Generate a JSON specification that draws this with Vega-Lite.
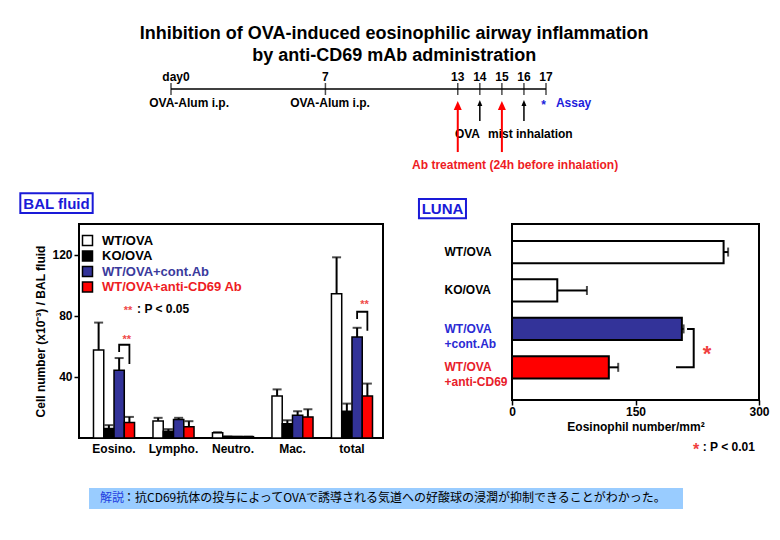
{
  "$schema": "https://vega.github.io/schema/vega-lite/v6.json",
  "background": "white",
  "padding": {"left": 18, "top": 24, "right": 10, "bottom": 10},
  "config": {
    "font": "Liberation Sans",
    "view": {"stroke": "black", "strokeWidth": 2},
    "axis": {"labelFont": "Liberation Sans", "labelFontSize": 12, "labelFontWeight": "bold", "labelColor": "black", "titleFont": "Liberation Sans", "titleFontWeight": "bold", "titleColor": "black", "tickColor": "black", "domainColor": "black", "grid": false}
  },
  "title": {"text": ["Inhibition of OVA-induced eosinophilic airway inflammation", "by anti-CD69 mAb administration"], "font": "Liberation Sans", "fontSize": 18, "fontWeight": "bold", "lineHeight": 22, "anchor": "middle", "offset": 6, "color": "black", "dx": 0},
  "spacing": 16,
  "vconcat": [
    {
      "width": 560, "height": 86, "view": {"stroke": null},
      "layer": [
        {"data": {"values": [{"start": 0, "end": 17}]},
         "mark": {"type": "rule", "strokeWidth": 1.5, "color": "black"},
         "encoding": {"x": {"field": "start", "type": "quantitative", "scale": {"domain": [-4.171, 21.216], "nice": false, "zero": false}, "axis": null}, "x2": {"field": "end"}, "y": {"datum": 0, "type": "quantitative", "scale": {"domain": [0, 1], "reverse": true, "nice": false}, "axis": null}}},
        {"data": {"values": [{"day": 0}, {"day": 7}, {"day": 13}, {"day": 14}, {"day": 15}, {"day": 16}, {"day": 17}]},
         "mark": {"type": "tick", "orient": "vertical", "size": 12, "thickness": 1.5, "color": "black"},
         "encoding": {"x": {"field": "day", "type": "quantitative", "scale": {"domain": [-4.171, 21.216], "nice": false, "zero": false}, "axis": null}, "y": {"datum": 0, "type": "quantitative", "scale": {"domain": [0, 1], "reverse": true, "nice": false}, "axis": null}}},
        {"data": {"values": [{"day": 0, "lvl": -0.14, "txt": "day0"}]},
         "mark": {"type": "text", "font": "Liberation Sans", "fontSize": 12, "fontWeight": "bold", "color": "black", "align": "center", "baseline": "middle", "dx": 5},
         "encoding": {"x": {"field": "day", "type": "quantitative", "scale": {"domain": [-4.171, 21.216], "nice": false, "zero": false}, "axis": null}, "y": {"field": "lvl", "type": "quantitative", "scale": {"domain": [0, 1], "reverse": true, "nice": false}, "axis": null}, "text": {"field": "txt"}}},
        {"data": {"values": [{"day": 7, "lvl": -0.14, "txt": "7"}, {"day": 13, "lvl": -0.14, "txt": "13"}, {"day": 14, "lvl": -0.14, "txt": "14"}, {"day": 15, "lvl": -0.14, "txt": "15"}, {"day": 16, "lvl": -0.14, "txt": "16"}, {"day": 17, "lvl": -0.14, "txt": "17"}]},
         "mark": {"type": "text", "font": "Liberation Sans", "fontSize": 12, "fontWeight": "bold", "color": "black", "align": "center", "baseline": "middle"},
         "encoding": {"x": {"field": "day", "type": "quantitative", "scale": {"domain": [-4.171, 21.216], "nice": false, "zero": false}, "axis": null}, "y": {"field": "lvl", "type": "quantitative", "scale": {"domain": [0, 1], "reverse": true, "nice": false}, "axis": null}, "text": {"field": "txt"}}},
        {"data": {"values": [{"day": 0.82, "lvl": 0.163, "txt": "OVA-Alum i.p."}, {"day": 7.21, "lvl": 0.163, "txt": "OVA-Alum i.p."}]},
         "mark": {"type": "text", "font": "Liberation Sans", "fontSize": 12, "fontWeight": "bold", "color": "black", "align": "center", "baseline": "middle"},
         "encoding": {"x": {"field": "day", "type": "quantitative", "scale": {"domain": [-4.171, 21.216], "nice": false, "zero": false}, "axis": null}, "y": {"field": "lvl", "type": "quantitative", "scale": {"domain": [0, 1], "reverse": true, "nice": false}, "axis": null}, "text": {"field": "txt"}}},
        {"data": {"values": [{"day": 12.87, "lvl": 0.527, "txt": "OVA"}, {"day": 14.37, "lvl": 0.527, "txt": "mist inhalation"}]},
         "mark": {"type": "text", "font": "Liberation Sans", "fontSize": 12, "fontWeight": "bold", "color": "black", "align": "left", "baseline": "middle"},
         "encoding": {"x": {"field": "day", "type": "quantitative", "scale": {"domain": [-4.171, 21.216], "nice": false, "zero": false}, "axis": null}, "y": {"field": "lvl", "type": "quantitative", "scale": {"domain": [0, 1], "reverse": true, "nice": false}, "axis": null}, "text": {"field": "txt"}}},
        {"data": {"values": [{"day": 15.6, "lvl": 0.884, "txt": "Ab treatment (24h before inhalation)"}]},
         "mark": {"type": "text", "font": "Liberation Sans", "fontSize": 12, "fontWeight": "bold", "color": "#ee1c24", "align": "center", "baseline": "middle"},
         "encoding": {"x": {"field": "day", "type": "quantitative", "scale": {"domain": [-4.171, 21.216], "nice": false, "zero": false}, "axis": null}, "y": {"field": "lvl", "type": "quantitative", "scale": {"domain": [0, 1], "reverse": true, "nice": false}, "axis": null}, "text": {"field": "txt"}}},
        {"data": {"values": [{"day": 16.89, "lvl": 0.186, "txt": "*"}]},
         "mark": {"type": "text", "font": "Liberation Sans", "fontSize": 12, "fontWeight": "bold", "color": "#1c1cdc", "align": "center", "baseline": "middle"},
         "encoding": {"x": {"field": "day", "type": "quantitative", "scale": {"domain": [-4.171, 21.216], "nice": false, "zero": false}, "axis": null}, "y": {"field": "lvl", "type": "quantitative", "scale": {"domain": [0, 1], "reverse": true, "nice": false}, "axis": null}, "text": {"field": "txt"}}},
        {"data": {"values": [{"day": 17.45, "lvl": 0.163, "txt": "Assay"}]},
         "mark": {"type": "text", "font": "Liberation Sans", "fontSize": 12, "fontWeight": "bold", "color": "#1c1cdc", "align": "left", "baseline": "middle"},
         "encoding": {"x": {"field": "day", "type": "quantitative", "scale": {"domain": [-4.171, 21.216], "nice": false, "zero": false}, "axis": null}, "y": {"field": "lvl", "type": "quantitative", "scale": {"domain": [0, 1], "reverse": true, "nice": false}, "axis": null}, "text": {"field": "txt"}}},
        {"data": {"values": [{"day": 13, "head": 0.192, "tail": 0.733}, {"day": 15, "head": 0.192, "tail": 0.733}]},
         "layer": [
           {"mark": {"type": "rule", "strokeWidth": 2, "color": "red"},
            "encoding": {"x": {"field": "day", "type": "quantitative", "scale": {"domain": [-4.171, 21.216], "nice": false, "zero": false}, "axis": null}, "y": {"field": "head", "type": "quantitative", "scale": {"domain": [0, 1], "reverse": true, "nice": false}, "axis": null}, "y2": {"field": "tail"}}},
           {"mark": {"type": "point", "shape": "M0,-1L0.89,1L-0.89,1Z", "filled": true, "size": 81, "color": "red", "opacity": 1, "strokeWidth": 0},
            "encoding": {"x": {"field": "day", "type": "quantitative", "scale": {"domain": [-4.171, 21.216], "nice": false, "zero": false}, "axis": null}, "y": {"field": "head", "type": "quantitative", "scale": {"domain": [0, 1], "reverse": true, "nice": false}, "axis": null}}}
         ]},
        {"data": {"values": [{"day": 14, "head": 0.162, "tail": 0.372}, {"day": 16, "head": 0.162, "tail": 0.372}]},
         "layer": [
           {"mark": {"type": "rule", "strokeWidth": 1.5, "color": "black"},
            "encoding": {"x": {"field": "day", "type": "quantitative", "scale": {"domain": [-4.171, 21.216], "nice": false, "zero": false}, "axis": null}, "y": {"field": "head", "type": "quantitative", "scale": {"domain": [0, 1], "reverse": true, "nice": false}, "axis": null}, "y2": {"field": "tail"}}},
           {"mark": {"type": "point", "shape": "M0,-1L0.83,1L-0.83,1Z", "filled": true, "size": 36, "color": "black", "opacity": 1, "strokeWidth": 0},
            "encoding": {"x": {"field": "day", "type": "quantitative", "scale": {"domain": [-4.171, 21.216], "nice": false, "zero": false}, "axis": null}, "y": {"field": "head", "type": "quantitative", "scale": {"domain": [0, 1], "reverse": true, "nice": false}, "axis": null}}}
         ]}
      ]
    },
    {
      "hconcat": [
        {
          "width": 304, "height": 214,
          "layer": [
            {
              "data": {"values": [
                {"cat": "Eosino.", "group": "WT/OVA", "value": 57.5, "err": 75.5},
                {"cat": "Eosino.", "group": "KO/OVA", "value": 6.2, "err": 8.4},
                {"cat": "Eosino.", "group": "WT/OVA+cont.Ab", "value": 44.3, "err": 52.3},
                {"cat": "Eosino.", "group": "WT/OVA+anti-CD69 Ab", "value": 10.1, "err": 13.8},
                {"cat": "Lympho.", "group": "WT/OVA", "value": 11.2, "err": 13.2},
                {"cat": "Lympho.", "group": "KO/OVA", "value": 4.4, "err": 5.8},
                {"cat": "Lympho.", "group": "WT/OVA+cont.Ab", "value": 12.1, "err": 13.2},
                {"cat": "Lympho.", "group": "WT/OVA+anti-CD69 Ab", "value": 7.3, "err": 11.0},
                {"cat": "Neutro.", "group": "WT/OVA", "value": 3.4, "err": 3.8},
                {"cat": "Neutro.", "group": "KO/OVA", "value": 1.0, "err": 1.0},
                {"cat": "Neutro.", "group": "WT/OVA+cont.Ab", "value": 0.9, "err": 0.9},
                {"cat": "Neutro.", "group": "WT/OVA+anti-CD69 Ab", "value": 0.9, "err": 0.9},
                {"cat": "Mac.", "group": "WT/OVA", "value": 27.5, "err": 31.8},
                {"cat": "Mac.", "group": "KO/OVA", "value": 9.3, "err": 11.6},
                {"cat": "Mac.", "group": "WT/OVA+cont.Ab", "value": 14.9, "err": 17.5},
                {"cat": "Mac.", "group": "WT/OVA+anti-CD69 Ab", "value": 13.8, "err": 18.8},
                {"cat": "total", "group": "WT/OVA", "value": 94.3, "err": 118.2},
                {"cat": "total", "group": "KO/OVA", "value": 17.5, "err": 22.5},
                {"cat": "total", "group": "WT/OVA+cont.Ab", "value": 66.0, "err": 72.1},
                {"cat": "total", "group": "WT/OVA+anti-CD69 Ab", "value": 27.5, "err": 35.6}
              ]},
              "encoding": {
                "x": {"field": "cat", "type": "nominal", "sort": ["Eosino.", "Lympho.", "Neutro.", "Mac.", "total"], "scale": {"paddingInner": 0.31, "paddingOuter": 0.21, "align": 0.58}, "axis": {"title": null, "ticks": false, "domain": false, "labelAngle": 0, "labelPadding": 5}},
                "xOffset": {"field": "group", "type": "nominal", "sort": ["WT/OVA", "KO/OVA", "WT/OVA+cont.Ab", "WT/OVA+anti-CD69 Ab"], "scale": {"paddingInner": 0, "paddingOuter": 0}}
              },
              "layer": [
                {"mark": {"type": "bar", "stroke": "black", "strokeWidth": 1.5},
                 "encoding": {
                   "y": {"field": "value", "type": "quantitative", "scale": {"domain": [0, 140], "nice": false}, "axis": {"title": "Cell number (x10⁻³) / BAL fluid", "titleFontSize": 12, "values": [40, 80, 120], "tickSize": 5, "tickWidth": 1.5, "domain": false, "labelPadding": 2, "titlePadding": 4}},
                   "color": {"field": "group", "type": "nominal", "scale": {"domain": ["WT/OVA", "KO/OVA", "WT/OVA+cont.Ab", "WT/OVA+anti-CD69 Ab"], "range": ["white", "black", "#333399", "#ff0000"]},
                     "legend": {"orient": "none", "legendX": 2, "legendY": 10, "title": null, "symbolType": "square", "symbolSize": 100, "symbolStrokeColor": "black", "symbolStrokeWidth": 1.5, "symbolOpacity": 1, "labelFont": "Liberation Sans", "labelFontSize": 13, "labelFontWeight": "bold", "labelOffset": 8, "rowPadding": -1.5, "padding": 0,
                       "encode": {"labels": {"update": {"fill": {"signal": "datum.value == 'WT/OVA+cont.Ab' ? '#3a3a9c' : datum.value == 'WT/OVA+anti-CD69 Ab' ? '#ee1c24' : 'black'"}}}}}}
                 }},
                {"mark": {"type": "rule", "strokeWidth": 2, "color": "black"},
                 "encoding": {"y": {"field": "value", "type": "quantitative", "scale": {"domain": [0, 140], "nice": false}}, "y2": {"field": "err"}}},
                {"mark": {"type": "tick", "orient": "horizontal", "size": 9, "thickness": 2, "color": "black"},
                 "encoding": {"y": {"field": "err", "type": "quantitative", "scale": {"domain": [0, 140], "nice": false}}}},
                {"data": {"values": [
                   {"bid": "e", "cat": "Eosino.", "group": "WT/OVA+cont.Ab", "yv": 56.3, "ord": 1},
                   {"bid": "e", "cat": "Eosino.", "group": "WT/OVA+cont.Ab", "yv": 61.0, "ord": 2},
                   {"bid": "e", "cat": "Eosino.", "group": "WT/OVA+anti-CD69 Ab", "yv": 61.0, "ord": 3},
                   {"bid": "e", "cat": "Eosino.", "group": "WT/OVA+anti-CD69 Ab", "yv": 48.4, "ord": 4},
                   {"bid": "t", "cat": "total", "group": "WT/OVA+cont.Ab", "yv": 77.9, "ord": 1},
                   {"bid": "t", "cat": "total", "group": "WT/OVA+cont.Ab", "yv": 82.6, "ord": 2},
                   {"bid": "t", "cat": "total", "group": "WT/OVA+anti-CD69 Ab", "yv": 82.6, "ord": 3},
                   {"bid": "t", "cat": "total", "group": "WT/OVA+anti-CD69 Ab", "yv": 70.2, "ord": 4}
                 ]},
                 "mark": {"type": "line", "strokeWidth": 1.8, "color": "black"},
                 "encoding": {"y": {"field": "yv", "type": "quantitative", "scale": {"domain": [0, 140], "nice": false}}, "order": {"field": "ord", "type": "quantitative"}, "detail": {"field": "bid"}}}
              ]
            },
            {
              "layer": [
                {"data": {"values": [{"x0": -0.193, "x1": 0.045, "y0": 147.2, "y1": 160.1}]},
                 "mark": {"type": "rect", "filled": false, "color": "#1a1ad8", "strokeWidth": 2},
                 "encoding": {"x": {"field": "x0", "type": "quantitative", "scale": {"domain": [0, 1], "nice": false, "zero": false}, "axis": null}, "x2": {"field": "x1"}, "y": {"field": "y0", "type": "quantitative", "scale": {"domain": [0, 140], "nice": false}}, "y2": {"field": "y1"}}},
                {"data": {"values": [{"x": -0.074, "y": 153.4, "t": "BAL fluid"}]},
                 "mark": {"type": "text", "font": "Liberation Sans", "fontSize": 15, "fontWeight": "bold", "color": "#1a1ad8", "align": "center", "baseline": "middle"},
                 "encoding": {"x": {"field": "x", "type": "quantitative", "scale": {"domain": [0, 1], "nice": false, "zero": false}, "axis": null}, "y": {"field": "y", "type": "quantitative", "scale": {"domain": [0, 140], "nice": false}}, "text": {"field": "t"}}},
                {"data": {"values": [{"x": 0.161, "y": 83.4, "t": "**"}, {"x": 0.157, "y": 63.8, "t": "**"}, {"x": 0.939, "y": 86.7, "t": "**"}]},
                 "mark": {"type": "text", "font": "Liberation Sans", "fontSize": 11, "fontWeight": "bold", "color": "#f04a4a", "align": "center", "baseline": "middle"},
                 "encoding": {"x": {"field": "x", "type": "quantitative", "scale": {"domain": [0, 1], "nice": false, "zero": false}, "axis": null}, "y": {"field": "y", "type": "quantitative", "scale": {"domain": [0, 140], "nice": false}}, "text": {"field": "t"}}},
                {"data": {"values": [{"x": 0.191, "y": 84.4, "t": ": P < 0.05"}]},
                 "mark": {"type": "text", "font": "Liberation Sans", "fontSize": 12, "fontWeight": "bold", "color": "black", "align": "left", "baseline": "middle"},
                 "encoding": {"x": {"field": "x", "type": "quantitative", "scale": {"domain": [0, 1], "nice": false, "zero": false}, "axis": null}, "y": {"field": "y", "type": "quantitative", "scale": {"domain": [0, 140], "nice": false}}, "text": {"field": "t"}}}
              ]
            }
          ],
          "resolve": {"scale": {"x": "independent"}}
        },
        {
          "width": 247, "height": 176,
          "layer": [
            {
              "data": {"values": [
                {"label": "WT/OVA", "value": 257, "err": 262.5},
                {"label": "KO/OVA", "value": 55, "err": 91},
                {"label": "WT/OVA\n+cont.Ab", "value": 206.3, "err": 208.4},
                {"label": "WT/OVA\n+anti-CD69", "value": 117.6, "err": 129}
              ]},
              "encoding": {
                "y": {"field": "label", "type": "nominal", "sort": ["WT/OVA", "KO/OVA", "WT/OVA\n+cont.Ab", "WT/OVA\n+anti-CD69"], "scale": {"paddingInner": 0.42, "paddingOuter": 0.5, "align": 0.44},
                  "axis": {"title": null, "ticks": false, "domain": false, "labelAlign": "left", "labelPadding": 68, "labelBaseline": "middle", "labelLineHeight": 15, "labelExpr": "split(datum.label, '\\n')",
                    "labelColor": {"condition": [{"test": "indexof(datum.value, 'cont') >= 0", "value": "#2a2ad4"}, {"test": "indexof(datum.value, 'anti') >= 0", "value": "#e8202a"}], "value": "black"}}}
              },
              "layer": [
                {"mark": {"type": "bar", "stroke": "black", "strokeWidth": 2},
                 "encoding": {
                   "x": {"field": "value", "type": "quantitative", "scale": {"domain": [0, 300], "nice": false}, "axis": {"values": [0, 150, 300], "title": "Eosinophil number/mm²", "titleFontSize": 12, "tickSize": 5, "tickWidth": 1.5, "domain": false, "labelFlush": false, "labelPadding": 1, "titlePadding": 4}},
                   "color": {"field": "label", "type": "nominal", "scale": {"domain": ["WT/OVA", "KO/OVA", "WT/OVA\n+cont.Ab", "WT/OVA\n+anti-CD69"], "range": ["white", "white", "#333399", "#ff0000"]}, "legend": null}
                 }},
                {"mark": {"type": "rule", "strokeWidth": 2, "color": "black"},
                 "encoding": {"x": {"field": "value", "type": "quantitative", "scale": {"domain": [0, 300], "nice": false}}, "x2": {"field": "err"}}},
                {"mark": {"type": "tick", "orient": "vertical", "size": 9, "thickness": 2, "color": "black"},
                 "encoding": {"x": {"field": "err", "type": "quantitative", "scale": {"domain": [0, 300], "nice": false}}}},
                {"data": {"values": [
                   {"label": "WT/OVA\n+cont.Ab", "xv": 212.6, "ord": 1},
                   {"label": "WT/OVA\n+cont.Ab", "xv": 220.7, "ord": 2},
                   {"label": "WT/OVA\n+anti-CD69", "xv": 220.7, "ord": 3},
                   {"label": "WT/OVA\n+anti-CD69", "xv": 199.2, "ord": 4}
                 ]},
                 "mark": {"type": "line", "strokeWidth": 2, "color": "black"},
                 "encoding": {"x": {"field": "xv", "type": "quantitative", "scale": {"domain": [0, 300], "nice": false}}, "order": {"field": "ord", "type": "quantitative"}}}
              ]
            },
            {
              "layer": [
                {"data": {"values": [{"x0": -113, "x1": -55.9, "y0": 1.032, "y1": 1.142}]},
                 "mark": {"type": "rect", "filled": false, "color": "#1a1ad8", "strokeWidth": 2},
                 "encoding": {"x": {"field": "x0", "type": "quantitative", "scale": {"domain": [0, 300], "nice": false}}, "x2": {"field": "x1"}, "y": {"field": "y0", "type": "quantitative", "scale": {"domain": [0, 1], "nice": false}, "axis": null}, "y2": {"field": "y1"}}},
                {"data": {"values": [{"x": -84.4, "y": 1.087, "t": "LUNA"}]},
                 "mark": {"type": "text", "font": "Liberation Sans", "fontSize": 15, "fontWeight": "bold", "color": "#1a1ad8", "align": "center", "baseline": "middle"},
                 "encoding": {"x": {"field": "x", "type": "quantitative", "scale": {"domain": [0, 300], "nice": false}}, "y": {"field": "y", "type": "quantitative", "scale": {"domain": [0, 1], "nice": false}, "axis": null}, "text": {"field": "t"}}},
                {"data": {"values": [{"x": 236.9, "y": 0.261, "t": "*"}]},
                 "mark": {"type": "text", "font": "Liberation Sans", "fontSize": 22, "fontWeight": "bold", "color": "#f04040", "align": "center", "baseline": "middle"},
                 "encoding": {"x": {"field": "x", "type": "quantitative", "scale": {"domain": [0, 300], "nice": false}}, "y": {"field": "y", "type": "quantitative", "scale": {"domain": [0, 1], "nice": false}, "axis": null}, "text": {"field": "t"}}},
                {"data": {"values": [{"x": 223.5, "y": -0.284, "t": "*"}]},
                 "mark": {"type": "text", "font": "Liberation Sans", "fontSize": 16, "fontWeight": "bold", "color": "#f04040", "align": "center", "baseline": "middle"},
                 "encoding": {"x": {"field": "x", "type": "quantitative", "scale": {"domain": [0, 300], "nice": false}}, "y": {"field": "y", "type": "quantitative", "scale": {"domain": [0, 1], "nice": false}, "axis": null}, "text": {"field": "t"}}},
                {"data": {"values": [{"x": 231.6, "y": -0.269, "t": ": P < 0.01"}]},
                 "mark": {"type": "text", "font": "Liberation Sans", "fontSize": 12, "fontWeight": "bold", "color": "black", "align": "left", "baseline": "middle"},
                 "encoding": {"x": {"field": "x", "type": "quantitative", "scale": {"domain": [0, 300], "nice": false}}, "y": {"field": "y", "type": "quantitative", "scale": {"domain": [0, 1], "nice": false}, "axis": null}, "text": {"field": "t"}}}
              ]
            }
          ],
          "resolve": {"scale": {"y": "independent"}}
        }
      ],
      "spacing": 129,
      "bounds": "flush",
      "resolve": {"scale": {"color": "independent"}, "legend": {"color": "independent"}}
    },
    {
      "width": 604, "height": 34, "view": {"stroke": null},
      "layer": [
        {"data": {"values": [{"x0": 0.0166, "x1": 1, "y0": 0, "y1": 0.618}]},
         "mark": {"type": "rect", "color": "#99ccff"},
         "encoding": {"x": {"field": "x0", "type": "quantitative", "scale": {"domain": [0, 1], "nice": false}, "axis": null}, "x2": {"field": "x1"}, "y": {"field": "y0", "type": "quantitative", "scale": {"domain": [0, 1], "nice": false}, "axis": null}, "y2": {"field": "y1"}}},
        {"data": {"values": [{"x": 0.0348, "y": 0.309, "t": "解説"}]},
         "mark": {"type": "text", "font": "Noto Sans CJK JP", "fontSize": 12, "fontWeight": "normal", "color": "#1f3ee0", "align": "left", "baseline": "middle"},
         "encoding": {"x": {"field": "x", "type": "quantitative", "scale": {"domain": [0, 1], "nice": false}, "axis": null}, "y": {"field": "y", "type": "quantitative", "scale": {"domain": [0, 1], "nice": false}, "axis": null}, "text": {"field": "t"}}},
        {"data": {"values": [{"x": 0.0728, "y": 0.309, "t": "：抗CD69抗体の投与によってOVAで誘導される気道への好酸球の浸潤が抑制できることがわかった。"}]},
         "mark": {"type": "text", "font": "Noto Sans CJK JP", "fontSize": 12, "fontWeight": "normal", "color": "black", "align": "left", "baseline": "middle"},
         "encoding": {"x": {"field": "x", "type": "quantitative", "scale": {"domain": [0, 1], "nice": false}, "axis": null}, "y": {"field": "y", "type": "quantitative", "scale": {"domain": [0, 1], "nice": false}, "axis": null}, "text": {"field": "t"}}}
      ]
    }
  ]
}
